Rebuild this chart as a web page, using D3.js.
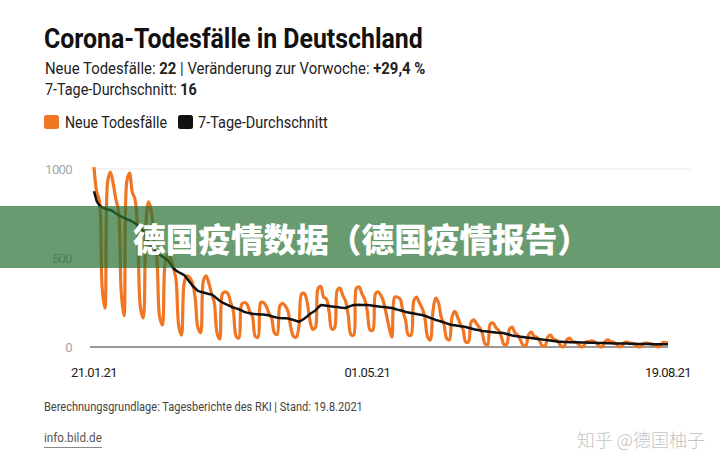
<!DOCTYPE html>
<html>
<head>
<meta charset="utf-8">
<script src="https://cdn.jsdelivr.net/npm/d3@7"></script>
<style>
  body { margin: 0; background: #fff; }
  svg { display: block; }
</style>
</head>
<body>
<svg id="chart" width="720" height="474"></svg>
<script>
// daily values, first day 21.01.2021
const startDate = "2021-01-21";

const newDeaths = [
  1010, 870, 820, 330, 218, 930, 983,
  920, 830, 760, 300, 175, 930, 977,
  870, 830, 640, 220, 163, 690, 815,
  760, 600, 500, 170, 124, 470, 520,
  500, 450, 380, 120, 67, 360, 400,
  390, 360, 280, 110, 80, 370, 400,
  360, 300, 250, 80, 45, 300, 310,
  300, 250, 200, 60, 50, 240, 250,
  240, 200, 170, 60, 55, 250, 250,
  230, 190, 160, 80, 70, 230, 245,
  230, 200, 110, 60, 55, 120, 300,
  300, 250, 150, 100, 110, 330, 340,
  280, 270, 200, 100, 107, 320, 331,
  290, 260, 180, 70, 67, 330, 337,
  300, 270, 200, 95, 95, 300, 309,
  290, 250, 180, 107, 56, 280, 280,
  270, 200, 150, 67, 67, 260, 281,
  250, 220, 170, 60, 39, 200, 275,
  250, 170, 130, 50, 39, 170, 200,
  170, 130, 100, 28, 28, 140, 152,
  130, 110, 80, 20, 11, 130, 135,
  110, 95, 60, 15, 15, 100, 112,
  80, 67, 40, 10, 8, 70, 84,
  60, 55, 35, 6, 5, 55, 67,
  45, 40, 25, 4, 3, 40, 50,
  30, 28, 20, 3, 2, 28, 30,
  35, 30, 20, 2, 2, 30, 40,
  30, 28, 18, 2, 2, 25, 28,
  22, 20, 12, 1, 2, 20, 22,
  20, 18, 12, 2, 3, 25, 25,
  22
];

const avg7 = [
  875, 820, 795, 785, 778, 772, 770,
  762, 750, 742, 732, 725, 718, 713,
  705, 695, 684, 674, 650, 620, 590,
  565, 545, 528, 518, 508, 498, 489,
  465, 444, 430, 420, 412, 404, 385,
  365, 345, 330, 315, 310, 306, 302,
  298, 295, 285, 272, 260, 250, 242,
  235, 228, 222, 217, 212, 205, 197,
  193, 190, 187, 185, 184, 183, 182,
  180, 178, 173, 168, 165, 163, 162,
  161, 160, 156, 152, 147, 142, 150,
  160, 172, 185, 195, 205, 222, 236,
  234, 232, 230, 228, 226, 225, 222,
  220, 219, 225, 231, 236, 236, 237,
  236, 236, 236, 234, 232, 230, 228,
  226, 225, 223, 221, 219, 215, 210,
  206, 202, 197, 194, 191, 188, 185,
  182, 180, 176, 170, 164, 158, 152,
  148, 143, 138, 133, 128, 124, 122,
  120, 117, 115, 112, 108, 104, 100,
  97, 94, 90, 89, 87, 85, 83,
  81, 80, 80, 77, 73, 69, 65,
  62, 60, 58, 56, 54, 52, 50,
  48, 46, 44, 42, 40, 38, 36,
  34, 32, 30, 29, 28, 28, 27,
  27, 26, 26, 25, 25, 25, 24,
  24, 24, 23, 23, 22, 22, 21,
  21, 20, 20, 20, 19, 19, 19,
  18, 18, 18, 17, 17, 17, 17,
  17, 16, 16, 16, 16, 16, 16,
  16
];

const yTicks = [0, 500, 1000];
const xTickDates = ["2021-01-21", "2021-05-01", "2021-08-19"];
const xTickLabels = ["21.01.21", "01.05.21", "19.08.21"];

const ORANGE = "#f07624";
const FONT = "Roboto, 'Open Sans', sans-serif";

const svg = d3.select("#chart");
const parse = d3.timeParse("%Y-%m-%d");
const t0 = parse(startDate);
const days = newDeaths.map((v, i) => d3.timeDay.offset(t0, i));

const x = d3.scaleTime()
  .domain([t0, days[days.length - 1]])
  .range([94, 668]);
const y = d3.scaleLinear().domain([0, 1000]).range([347, 169]);

// squeeze a text node to a given width (mimics the condensed BILD font)
function fitWidth(sel, x0, y0, w) {
  const bw = sel.node().getBBox().width;
  sel.attr("transform", `translate(${x0},${y0}) scale(${w / bw},1)`);
}

// header
const title = svg.append("text")
  .attr("font-family", FONT).attr("font-weight", 700)
  .attr("font-size", 28).attr("fill", "#111")
  .text("Corona-Todesfälle in Deutschland");
fitWidth(title, 44, 48, 379);

const sub1 = svg.append("text")
  .attr("font-family", FONT).attr("font-size", 16).attr("fill", "#222");
sub1.append("tspan").text("Neue Todesfälle: ");
sub1.append("tspan").attr("font-weight", 700).text("22");
sub1.append("tspan").text(" | Veränderung zur Vorwoche: ");
sub1.append("tspan").attr("font-weight", 700).text("+29,4 %");
fitWidth(sub1, 45, 74, 381);

const sub2 = svg.append("text")
  .attr("font-family", FONT).attr("font-size", 16).attr("fill", "#222");
sub2.append("tspan").text("7-Tage-Durchschnitt: ");
sub2.append("tspan").attr("font-weight", 700).text("16");
fitWidth(sub2, 45, 95, 152);

// legend
const legend = [
  { label: "Neue Todesfälle", color: ORANGE, x: 44, tx: 65, w: 102 },
  { label: "7-Tage-Durchschnitt", color: "#111", x: 178, tx: 198, w: 130 }
];
legend.forEach(l => {
  svg.append("rect").attr("x", l.x).attr("y", 115)
    .attr("width", 15).attr("height", 14).attr("rx", 2.5)
    .attr("fill", l.color);
  const t = svg.append("text")
    .attr("font-family", FONT).attr("font-size", 16).attr("fill", "#222")
    .text(l.label);
  fitWidth(t, l.tx, 128, l.w);
});

// grid + y labels
const grid = svg.append("g");
yTicks.forEach(v => {
  grid.append("line")
    .attr("x1", 90).attr("x2", v === 0 ? 668 : 690)
    .attr("y1", y(v)).attr("y2", y(v))
    .attr("stroke", v === 0 ? "#333" : "#e6e6e6")
    .attr("stroke-width", 1);
  grid.append("text")
    .attr("x", 72).attr("y", y(v)).attr("dy", "0.35em")
    .attr("text-anchor", "end")
    .attr("font-family", FONT).attr("font-size", 13)
    .attr("fill", "#a5a5a5").attr("letter-spacing", -0.6)
    .text(v);
});

// x labels
xTickDates.forEach((d, i) => {
  svg.append("text")
    .attr("x", x(parse(d))).attr("y", 377)
    .attr("text-anchor", "middle")
    .attr("font-family", FONT).attr("font-size", 13)
    .attr("fill", "#222").attr("letter-spacing", -0.6)
    .text(xTickLabels[i]);
});

// lines
const lineNew = d3.line()
  .x((d, i) => x(days[i]))
  .y(d => y(d))
  .curve(d3.curveCatmullRom.alpha(0.5));

const lineAvg = d3.line()
  .x((d, i) => x(days[i]))
  .y(d => y(d));

svg.append("path").datum(newDeaths)
  .attr("d", lineNew)
  .attr("fill", "none").attr("stroke", ORANGE)
  .attr("stroke-width", 3.2).attr("stroke-linejoin", "round");

svg.append("path").datum(avg7)
  .attr("d", lineAvg)
  .attr("fill", "none").attr("stroke", "#111")
  .attr("stroke-width", 2.5).attr("stroke-linejoin", "round");

// footer
const foot = svg.append("text")
  .attr("font-family", FONT).attr("font-size", 12).attr("fill", "#444")
  .text("Berechnungsgrundlage: Tagesberichte des RKI | Stand: 19.8.2021");
fitWidth(foot, 44, 411, 319);

const link = svg.append("text")
  .attr("font-family", FONT).attr("font-size", 13).attr("fill", "#555")
  .text("info.bild.de");
fitWidth(link, 44, 442, 58);
svg.append("line")
  .attr("x1", 44).attr("x2", 102).attr("y1", 447.5).attr("y2", 447.5)
  .attr("stroke", "#888").attr("stroke-width", 1);

// watermark
svg.append("text")
  .attr("x", 705).attr("y", 447)
  .attr("text-anchor", "end")
  .attr("font-family", "'Noto Sans CJK SC', sans-serif")
  .attr("font-size", 18).attr("font-weight", 300)
  .attr("fill", "#c4c4c4")
  .text("知乎 @德国柚子");

// overlay banner
svg.append("rect")
  .attr("x", 0).attr("y", 206).attr("width", 720).attr("height", 62)
  .attr("fill", "rgb(40,112,50)").attr("fill-opacity", 0.7);

svg.append("text")
  .attr("x", 133).attr("y", 238)
  .attr("dominant-baseline", "central")
  .attr("font-family", "'Noto Sans CJK SC', sans-serif")
  .attr("font-weight", 900).attr("font-size", 33)
  .attr("fill", "#fff")
  .attr("textLength", 457).attr("lengthAdjust", "spacingAndGlyphs")
  .text("德国疫情数据（德国疫情报告）");
</script>
</body>
</html>
